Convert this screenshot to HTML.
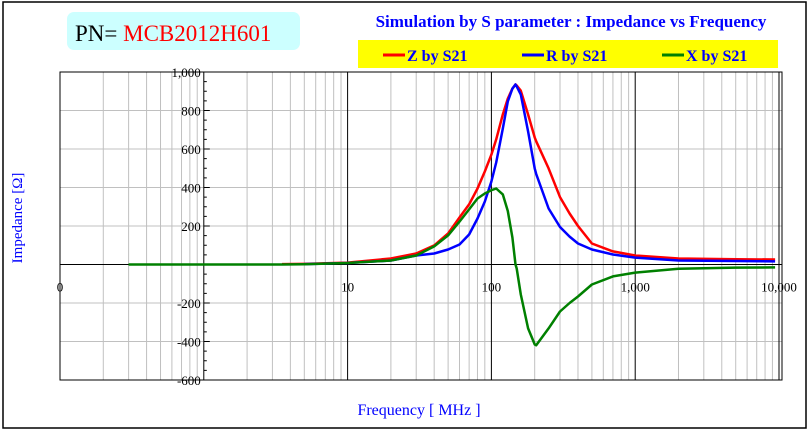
<!DOCTYPE html>
<html><head><meta charset="utf-8"><style>
body{margin:0;background:#fff;width:811px;height:432px;overflow:hidden;font-family:"Liberation Serif",serif}
svg{position:absolute;left:0;top:0}
</style></head><body>
<svg width="811" height="432">
<rect x="3" y="2" width="803" height="426" fill="#fff" stroke="#000" stroke-width="1.5"/>
<rect x="67" y="12" width="233" height="38" rx="7" fill="#ccffff"/>
<text x="75" y="41" font-size="23"><tspan fill="#000">PN= </tspan><tspan fill="#ff0000">MCB2012H601</tspan></text>
<text x="571" y="27" font-size="17" fill="#0000ff" text-anchor="middle" font-weight="bold">Simulation by S parameter : Impedance vs Frequency</text>
<rect x="358" y="40" width="420" height="28" fill="#ffff00"/>
<g id="legend" font-size="16" font-weight="bold" fill="#0000ff"></g>
<g id="grid"></g>
<g id="series"></g>
<g id="labels" font-size="13" fill="#000"></g>
<text transform="translate(22,218) rotate(-90)" font-size="15" fill="#0000ff" text-anchor="middle">Impedance [Ω]</text>
<text x="419" y="415" font-size="16" fill="#0000ff" text-anchor="middle">Frequency [ MHz ]</text>
</svg>
<script>
const freq=[0.3,1,3,3.5,5,10,20,30,40,50,60,70,80,90,100,108,120,130,140,147,150,160,180,200,205,250,300,350,400,500,700,1000,2000,5000,9400];
const zVals=[null,null,null,2,3,10,31,57,99,161,244,312,395,483,571,650,779,862,914,935,930,903,779,660,640,499,350,265,200,109,68,47,31,27,26];
const rVals=[null,null,null,null,2,8,21,47,57,78,104,156,239,327,431,530,706,847,914,935,925,883,691,499,470,291,195,145,109,78,52,36,21,18,16];
const xVals=[0,0,0,0,1,8,21,47,94,151,223,286,343,369,386,395,364,278,140,0,-21,-156,-332,-415,-420,-332,-244,-200,-166,-104,-62,-42,-22,-16,-15];
const yTicks=[1000,800,600,400,200,0,-200,-400,-600];
const yTickLabels=["1,000","800","600","400","200","","-200","-400","-600"];
const xTicks=[0.1,1,10,100,1000,10000];
const xTickLabels=["0","","10","100","1,000","10,000"];
const L=60,R=779,T=72,B=380;
const xs=f=>L+(Math.log10(f)+1)/5*(R-L);
const ys=v=>T+(1000-v)/1600*(B-T);
const NS="http://www.w3.org/2000/svg";
function mk(tag,at,parent){const e=document.createElementNS(NS,tag);for(const k in at)e.setAttribute(k,at[k]);parent.appendChild(e);return e;}
const grid=document.getElementById('grid'),ser=document.getElementById('series'),lab=document.getElementById('labels'),leg=document.getElementById('legend');
for(let d=-1;d<4;d++)for(let m=2;m<10;m++){const x=xs(m*Math.pow(10,d));const l=mk('line',{x1:x,x2:x,y1:T,y2:B,stroke:'#c0c0c0','stroke-width':1},grid);

}
yTicks.forEach(v=>{const l=mk('line',{x1:L,x2:782,y1:ys(v),y2:ys(v),stroke:v===0?'#000':'#c0c0c0','stroke-width':1},grid);

});
xTicks.forEach((f,i)=>{const x=xs(f);const l=mk('line',{x1:x,x2:x,y1:T,y2:B,stroke:'#000','stroke-width':1},grid);

});
const fr=mk('rect',{x:L,y:T,width:782-L,height:B-T,fill:'none',stroke:'#000','stroke-width':1},grid);


const yax=xs(1);
for(let v=-600;v<=1000;v+=50){const w=(v%200===0)?6:3;const t=mk('line',{x1:yax,x2:yax+w,y1:ys(v),y2:ys(v),stroke:'#000'},grid);

}
yTicks.forEach((v,i)=>{const t=mk('text',{x:yax-3,y:ys(v)+5,'text-anchor':'end'},lab);t.textContent=yTickLabels[i];

});
xTicks.forEach((f,i)=>{const t=mk('text',{x:xs(f),y:ys(0)+27,'text-anchor':'middle'},lab);t.textContent=xTickLabels[i];

});
function line(vals,color,name){let d='';vals.forEach((v,i)=>{if(v===null)return;d+=(d?'L':'M')+xs(freq[i]).toFixed(1)+','+ys(v).toFixed(1);});
const p=mk('path',{d:d,fill:'none',stroke:color,'stroke-width':2.5,'stroke-linejoin':'round'},ser);

}
line(zVals,'#ff0000','z-series');line(rVals,'#0000ff','r-series');line(xVals,'#008000','x-series');
[['Z by S21','#ff0000',383],['R by S21','#0000ff',522],['X by S21','#008000',662]].forEach(([t,c,x])=>{
const g=mk('g',{},leg);


mk('line',{x1:x,x2:x+22,y1:55,y2:55,stroke:c,'stroke-width':3},g);
const tx=mk('text',{x:x+24,y:61},g);tx.textContent=t;});
</script>
</body></html>
